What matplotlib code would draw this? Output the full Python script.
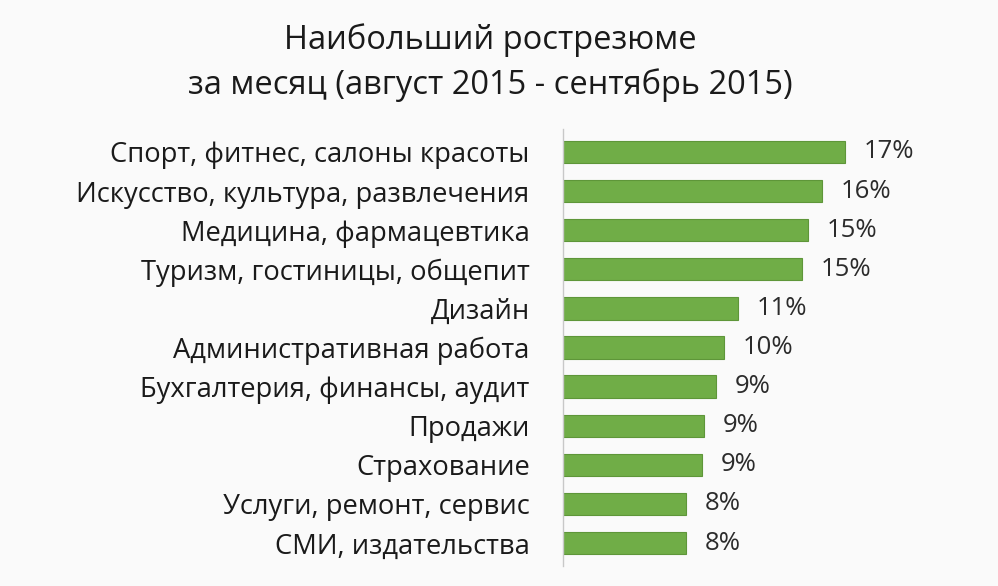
import matplotlib.pyplot as plt
import numpy as np

plt.rcParams['font.family'] = ['Open Sans', 'DejaVu Sans']

categories = [
    'Спорт, фитнес, салоны красоты',
    'Искусство, культура, развлечения',
    'Медицина, фармацевтика',
    'Туризм, гостиницы, общепит',
    'Дизайн',
    'Административная работа',
    'Бухгалтерия, финансы, аудит',
    'Продажи',
    'Страхование',
    'Услуги, ремонт, сервис',
    'СМИ, издательства',
]
values = [17.35, 15.94, 15.08, 14.71, 10.77, 9.91, 9.42, 8.68, 8.55, 7.57, 7.57]
labels = ['17%', '16%', '15%', '15%', '11%', '10%', '9%', '9%', '9%', '8%', '8%']

bg = '#fafafa'
fig = plt.figure(figsize=(9.98, 5.86), dpi=100, facecolor=bg)
ax = fig.add_axes([563 / 998, 0.0333, 397 / 998, 0.7474], facecolor=bg)

y = np.arange(len(categories))
ax.barh(y, values, height=0.57, color='#70ad47', edgecolor='#5e9639', linewidth=0.8)

for yi, v, lab in zip(y, values, labels):
    ax.text(v + 1.15, yi, lab, va='center', ha='left', fontsize=18.5, color='#2b2b2b')

ax.set_xlim(0, 24.4)
ax.set_ylim(len(categories) - 0.4, -0.6)
ax.set_yticks(y)
ax.set_yticklabels(categories, fontsize=19.7, color='#1a1a1a')
ax.tick_params(axis='y', length=0, pad=24)
ax.set_xticks([])
for side in ['top', 'right', 'bottom']:
    ax.spines[side].set_visible(False)
ax.spines['left'].set_color('#c8c8c8')
ax.spines['left'].set_linewidth(1)

fig.text(490 / 998, 1 - 40 / 586, 'Наибольший рострезюме', ha='center', va='center',
         fontsize=23.5, color='#1a1a1a')
fig.text(490 / 998, 1 - 85 / 586, 'за месяц (август 2015 - сентябрь 2015)', ha='center',
         va='center', fontsize=23.5, color='#1a1a1a')

fig.savefig('out.png', dpi=100, facecolor=bg)
